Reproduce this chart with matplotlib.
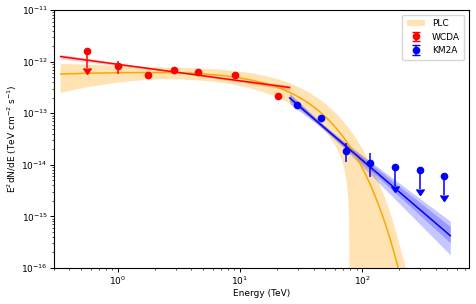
import numpy as np
import matplotlib
matplotlib.use("Agg")
import matplotlib.pyplot as plt

# ---------------- data ----------------
wcda_E = [0.56, 1.0, 1.78, 2.86, 4.57, 9.1, 20.5]
wcda_F = [1.63e-12, 8.4e-13, 5.45e-13, 6.9e-13, 6.3e-13, 5.45e-13, 2.16e-13]
wcda_err_lo = [8.85e-13, 2.6e-13, 0.81e-13, 0.5e-13, 0.45e-13, 0.4e-13, 0.30e-13]
wcda_err_hi = [0.0, 2.1e-13, 0.95e-13, 0.5e-13, 0.45e-13, 0.4e-13, 0.34e-13]
wcda_ul = [True, False, False, False, False, False, False]

km2a_E = [29.2, 46.4, 74.0, 117.0, 186.0, 295.0, 468.0]
km2a_F = [1.47e-13, 8.0e-14, 1.88e-14, 1.1e-14, 9.0e-15, 7.9e-15, 6.1e-15]
km2a_err_lo = [1.0e-14, 7.0e-15, 7.6e-15, 5.1e-15, 5.1e-15, 4.5e-15, 3.5e-15]
km2a_err_hi = [1.0e-14, 7.7e-15, 7.3e-15, 5.7e-15, 0.0, 0.0, 0.0]
km2a_ul = [False, False, False, False, True, True, True]

x_ticks = [1, 10, 100]
y_ticks = [1e-16, 1e-15, 1e-14, 1e-13, 1e-12, 1e-11]

# fitted models (E^2 dN/dE normalisation in TeV cm^-2 s^-1)
wcda_range = (0.34, 25.5)
wcda_N1, wcda_index = 8.9e-13, 2.32          # at 1 TeV
wcda_band = (0.02, 0.044, 3.0)               # r0, slope, pivot (TeV)

km2a_range = (25.5, 527.0)
km2a_N50, km2a_index = 5.05e-14, 4.03        # at 50 TeV
km2a_outer = (0.05, 0.27, 0.36, 50.0)        # w0, g_up, g_lo, pivot (decades)
km2a_inner = (0.04, 0.17, 0.13, 50.0)

plc_range = (0.34, 1000.0)
plc_N1, plc_index, plc_Ec = 6.4e-13, 1.92, 21.5
plc_up = (0.25, 0.236, 0.14, 3.0, 80.0)      # r0, g_low, g_high, pivot, E_u
plc_lo = (0.25, 0.236, 0.14, 3.0, 79.0, 7.0)  # r0, g_low, g_high, pivot, E_z, k

# ---------------- models ----------------
def plc(E):
    return plc_N1 * E ** (2 - plc_index) * np.exp(-E / plc_Ec)

def base_r(E, r0, gl, gh, Ep):
    g = np.where(E < Ep, gl, gh)
    return np.sqrt(r0 ** 2 + (g * np.log(E / Ep)) ** 2)

plt.rcParams["font.size"] = 6.5
fig = plt.figure(figsize=(4.76, 3.04), dpi=100)
ax = fig.add_axes([54 / 476, 1 - 268 / 304, (469 - 54) / 476, (268 - 10.1) / 304])

# PLC
Ep = np.logspace(np.log10(plc_range[0]), np.log10(plc_range[1]), 800)
fp = plc(Ep)
r0, gl, gh, piv, Eu = plc_up
r_up = np.sqrt(base_r(Ep, r0, gl, gh, piv) ** 2 + (Ep / Eu) ** 2)
r0, gl, gh, piv, Ez, k = plc_lo
r_lo = base_r(Ep, r0, gl, gh, piv) + (1 - base_r(Ez, r0, gl, gh, piv)) * (Ep / Ez) ** k
lo = fp * (1 - r_lo)
lo = np.where(lo > 1e-30, lo, 1e-30)
ax.fill_between(Ep, lo, fp * (1 + r_up), color="orange", alpha=0.3, lw=0, label="PLC")
ax.plot(Ep, fp, color="orange", lw=1.1)

# WCDA power law
Ew = np.logspace(np.log10(wcda_range[0]), np.log10(wcda_range[1]), 200)
fw = wcda_N1 * Ew ** (2 - wcda_index)
rw = np.sqrt(wcda_band[0] ** 2 + (wcda_band[1] * np.log(Ew / wcda_band[2])) ** 2)
ax.fill_between(Ew, fw * (1 - rw), fw * (1 + rw), color="red", alpha=0.22, lw=0)
ax.plot(Ew, fw, color="red", lw=1.1)

# KM2A power law
Ek = np.logspace(np.log10(km2a_range[0]), np.log10(km2a_range[1]), 200)
fk = km2a_N50 * (Ek / 50.0) ** (2 - km2a_index)
for (w0, gu, gl_, pv) in (km2a_outer, km2a_inner):
    x = np.log10(Ek / pv)
    wu = np.sqrt(w0 ** 2 + (gu * x) ** 2)
    wl = np.sqrt(w0 ** 2 + (gl_ * x) ** 2)
    ax.fill_between(Ek, fk * 10 ** (-wl), fk * 10 ** wu, color="blue", alpha=0.22, lw=0)
ax.plot(Ek, fk, color="blue", lw=1.1)

# flux points
ax.errorbar(wcda_E, wcda_F, yerr=[wcda_err_lo, wcda_err_hi], uplims=wcda_ul,
            fmt="o", color="red", ms=4.5, lw=1.1, label="WCDA")
ax.errorbar(km2a_E, km2a_F, yerr=[km2a_err_lo, km2a_err_hi], uplims=km2a_ul,
            fmt="o", color="blue", ms=4.5, lw=1.1, label="KM2A")

ax.set_xscale("log")
ax.set_yscale("log")
ax.set_xticks(x_ticks)
ax.set_yticks(y_ticks)
ax.set_xlim(0.3, 750)
ax.set_ylim(1e-16, 1e-11)
for s in ax.spines.values():
    s.set_linewidth(0.8)
ax.tick_params(which="major", length=2.6, width=0.7, pad=1.8, labelsize=6.5)
ax.tick_params(which="minor", length=1.5, width=0.5)
ax.set_xlabel("Energy (TeV)", fontsize=6.5, labelpad=2)
ax.set_ylabel(r"E$^2$dN/dE (TeV cm$^{-2}$ s$^{-1}$)", fontsize=6.5, labelpad=2)
ax.legend(loc="upper right", fontsize=6.5, borderpad=0.5)

fig.savefig("out.png", dpi=100)
